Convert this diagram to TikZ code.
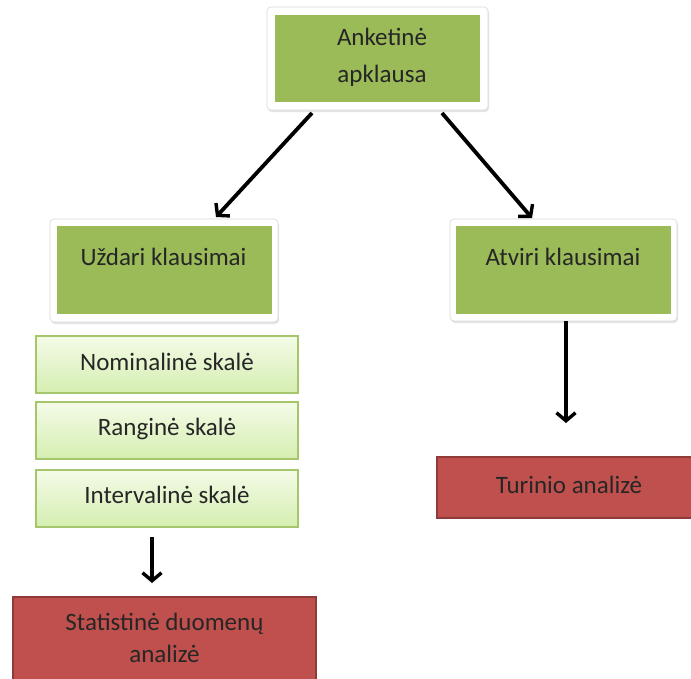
\documentclass[tikz,border=0pt]{standalone}
\usepackage{fontspec}
\setmainfont{Carlito}
\usetikzlibrary{shadows,arrows.meta,calc}
\definecolor{leaf}{HTML}{9BBB59}
\definecolor{leafedge}{HTML}{A6C66C}
\definecolor{paletop}{HTML}{F4FBE8}
\definecolor{palebot}{HTML}{D5EEB0}
\definecolor{brick}{HTML}{C0504D}
\definecolor{brickedge}{HTML}{8E3B39}
\definecolor{ink}{HTML}{262626}
\begin{document}
\begin{tikzpicture}[x=1pt,y=-1pt,
  frame/.style={draw=black!15, line width=0.6pt, fill=white, rounded corners=4pt,
    drop shadow={opacity=0.22, shadow xshift=1pt, shadow yshift=-2pt},
    inner sep=0pt, outer sep=0pt},
  greenfill/.style={fill=leaf, draw=none, inner sep=0pt, outer sep=0pt},
  scalebox/.style={draw=leafedge, line width=1.4pt, top color=paletop, bottom color=palebot,
    minimum width=262pt, minimum height=57pt, inner sep=0pt, outer sep=0pt,
    drop shadow={opacity=0.15, shadow xshift=0.8pt, shadow yshift=-1.2pt}},
  redbox/.style={draw=brickedge, line width=2pt, fill=brick, inner sep=0pt, outer sep=0pt,
    drop shadow={opacity=0.15, shadow xshift=0.8pt, shadow yshift=-1.2pt}},
  txt/.style={anchor=base, text=ink, inner sep=0pt, align=center,
    font=\fontsize{25}{33}\selectfont},
  arr/.style={line width=3.8pt, -{Straight Barb[length=8pt, width=19pt, line width=3.4pt]}}
]
\clip (0,0) rectangle (691,678);
\useasboundingbox (0,0) rectangle (691,678);
\fill[white] (0,0) rectangle (691,678);

% top box
\node[frame, minimum width=221pt, minimum height=103pt] (top) at (377.5,58.5) {};
\node[greenfill, minimum width=205pt, minimum height=87pt] (topin) at (377.5,58.5) {};
\node[txt, font=\fontsize{25}{37}\selectfont] (toptxt) at (382,82) {Anketinė\\apklausa};

% closed questions
\node[frame, minimum width=228pt, minimum height=103pt] (uzd) at (164,270.5) {};
\node[greenfill, minimum width=215pt, minimum height=88pt] (uzdin) at (164.5,270) {};
\node[txt] (uzdtxt) at (163.5,265) {Uždari klausimai};

% open questions
\node[frame, minimum width=227pt, minimum height=102pt] (atv) at (563.5,270) {};
\node[greenfill, minimum width=215pt, minimum height=88pt] (atvin) at (563.5,270) {};
\node[txt] (atvtxt) at (563,265) {Atviri klausimai};

% scales
\node[scalebox] (nom) at (167,364.5) {};
\node[txt] (nomtxt) at (167,370) {Nominalinė skalė};
\node[scalebox] (rang) at (167,430.5) {};
\node[txt] (rangtxt) at (167,435) {Ranginė skalė};
\node[scalebox] (intv) at (167,498.5) {};
\node[txt] (intvtxt) at (167,503) {Intervalinė skalė};

% analysis boxes
\node[redbox, minimum width=264pt, minimum height=61pt] (tur) at (569,487.5) {};
\node[txt] (turtxt) at (569,493) {Turinio analizė};
\node[redbox, minimum width=303pt, minimum height=92pt] (stat) at (164.5,643) {};
\node[txt, font=\fontsize{25}{32}\selectfont] (stattxt) at (164.5,662) {Statistinė duomenų\\analizė};

% connectors
\draw[arr] ($(top.south west)+(45,3)$) -- ($(uzd.north west)+(166,-2)$);
\draw[arr] ($(top.south west)+(175,3)$) -- ($(atv.north west)+(82,-1)$);
\draw[arr] (atv.south -| 566,0) -- ($(tur.north -| 566,0)+(0,-34)$);
\draw[arr] ($(intv.south -| 152,0)+(0,10)$) -- ($(stat.north -| 152,0)+(0,-14)$);
\end{tikzpicture}
\end{document}
